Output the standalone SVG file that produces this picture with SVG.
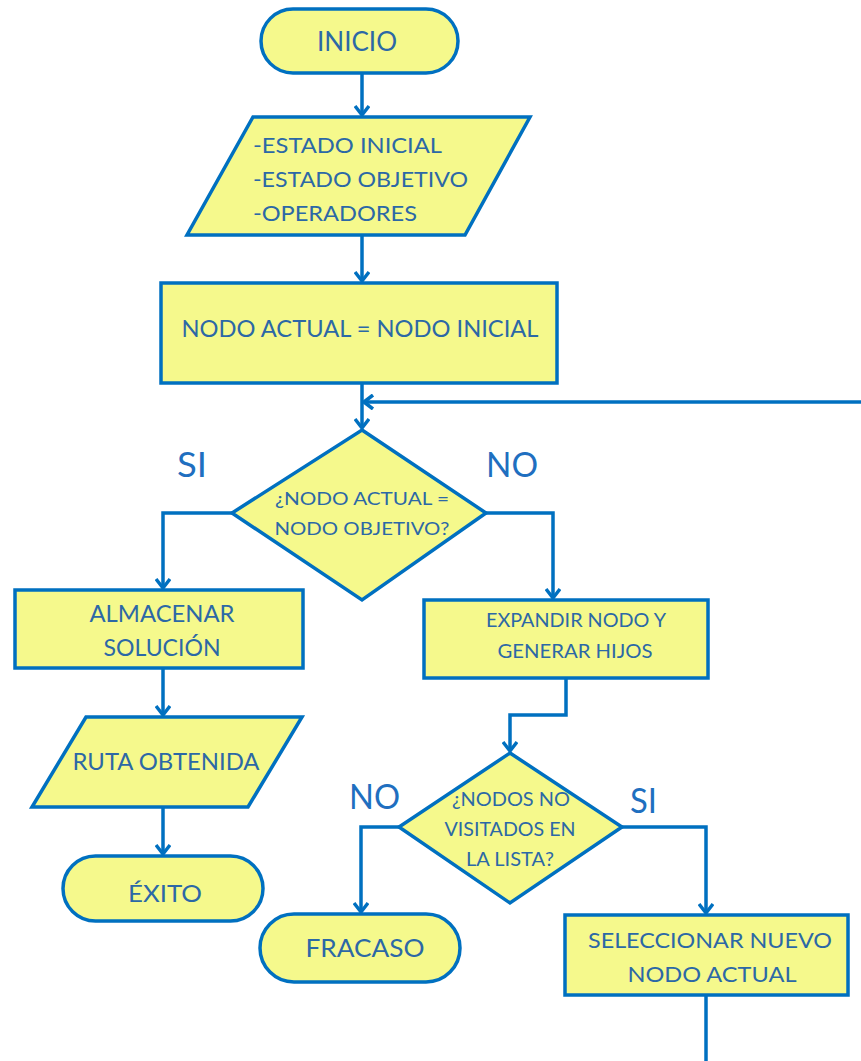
<svg xmlns="http://www.w3.org/2000/svg" width="861" height="1061" viewBox="0 0 861 1061">
<style>
.shape{fill:#F5F98C;stroke:#0070C0;stroke-width:3.5}
.t{font-family:Lato,"Open Sans","Liberation Sans",sans-serif;fill:#2C68A6;text-anchor:middle}
.lbl{font-family:Lato,"Open Sans","Liberation Sans",sans-serif;fill:#1F6FC0;font-size:35px}
.c{fill:none;stroke:#0070C0;stroke-width:3.5}
</style>
<defs>
<marker id="arr" viewBox="-12 -8 14 16" markerWidth="14" markerHeight="16" refX="0" refY="0" orient="auto" markerUnits="userSpaceOnUse">
<path d="M-9,-7 L0,0 L-9,7" fill="none" stroke="#0070C0" stroke-width="3.5" stroke-linejoin="round"/>
</marker>
</defs>
<rect width="861" height="1061" fill="#FFFFFF"/>
<g id="connectors">
<path class="c" d="M362,73 L362,115" marker-end="url(#arr)"/>
<path class="c" d="M362,235 L362,281" marker-end="url(#arr)"/>
<path class="c" d="M362,384 L362,428" marker-end="url(#arr)"/>
<path class="c" d="M861,402 L364,402" marker-end="url(#arr)"/>
<path class="c" d="M232,513 L163,513 L163,588" marker-end="url(#arr)"/>
<path class="c" d="M486,513 L553,513 L553,598" marker-end="url(#arr)"/>
<path class="c" d="M163,668 L163,715" marker-end="url(#arr)"/>
<path class="c" d="M163,807 L163,854" marker-end="url(#arr)"/>
<path class="c" d="M566,678 L566,715 L510,715 L510,751" marker-end="url(#arr)"/>
<path class="c" d="M399,827 L361,827 L361,912" marker-end="url(#arr)"/>
<path class="c" d="M622,827 L706,827 L706,913" marker-end="url(#arr)"/>
<path class="c" d="M706,995 L706,1061"/>
</g>
<g id="labels">
<text class="lbl" x="177" y="477" textLength="30" lengthAdjust="spacingAndGlyphs">SI</text>
<text class="lbl" x="486" y="477" textLength="52" lengthAdjust="spacingAndGlyphs">NO</text>
<text class="lbl" x="349" y="809" textLength="51" lengthAdjust="spacingAndGlyphs">NO</text>
<text class="lbl" x="630" y="813" textLength="27" lengthAdjust="spacingAndGlyphs">SI</text>
</g>
<g id="inicio">
<rect class="shape" x="261" y="9" width="197" height="64" rx="32"/>
<text class="t" x="357" y="51" font-size="26" textLength="80" lengthAdjust="spacingAndGlyphs">INICIO</text>
</g>
<g id="entrada">
<polygon class="shape" points="253,117 530,117 465,235 187,235"/>
<text class="t" style="text-anchor:start" x="253" y="153" font-size="22" textLength="189" lengthAdjust="spacingAndGlyphs">-ESTADO INICIAL</text>
<text class="t" style="text-anchor:start" x="253" y="187" font-size="22" textLength="215" lengthAdjust="spacingAndGlyphs">-ESTADO OBJETIVO</text>
<text class="t" style="text-anchor:start" x="253" y="221" font-size="22" textLength="164" lengthAdjust="spacingAndGlyphs">-OPERADORES</text>
</g>
<g id="nodo-inicial">
<rect class="shape" x="161" y="283" width="396" height="100"/>
<text class="t" x="360" y="337" font-size="23" textLength="357" lengthAdjust="spacingAndGlyphs">NODO ACTUAL = NODO INICIAL</text>
</g>
<g id="decision-objetivo">
<polygon class="shape" points="362,430 486,513 362,600 232,513"/>
<text class="t" x="362" y="505" font-size="18" textLength="174" lengthAdjust="spacingAndGlyphs">¿NODO ACTUAL =</text>
<text class="t" x="362" y="535" font-size="18" textLength="175" lengthAdjust="spacingAndGlyphs">NODO OBJETIVO?</text>
</g>
<g id="almacenar">
<rect class="shape" x="15" y="590" width="288" height="78"/>
<text class="t" x="162" y="622" font-size="23" textLength="145" lengthAdjust="spacingAndGlyphs">ALMACENAR</text>
<text class="t" x="162" y="656" font-size="23" textLength="117" lengthAdjust="spacingAndGlyphs">SOLUCIÓN</text>
</g>
<g id="ruta">
<polygon class="shape" points="86,717 302,717 248,807 32,807"/>
<text class="t" x="166" y="770" font-size="23" textLength="187" lengthAdjust="spacingAndGlyphs">RUTA OBTENIDA</text>
</g>
<g id="exito">
<rect class="shape" x="63" y="856" width="200" height="65" rx="32.5"/>
<text class="t" x="165" y="902" font-size="24" textLength="74" lengthAdjust="spacingAndGlyphs">ÉXITO</text>
</g>
<g id="expandir">
<rect class="shape" x="424" y="600" width="284" height="78"/>
<text class="t" x="576" y="627" font-size="20" textLength="180" lengthAdjust="spacingAndGlyphs">EXPANDIR NODO Y</text>
<text class="t" x="575" y="658" font-size="20" textLength="155" lengthAdjust="spacingAndGlyphs">GENERAR HIJOS</text>
</g>
<g id="decision-lista">
<polygon class="shape" points="510,753 622,827 510,903 399,827"/>
<text class="t" x="511" y="806" font-size="20" textLength="118" lengthAdjust="spacingAndGlyphs">¿NODOS NO</text>
<text class="t" x="510" y="836" font-size="20" textLength="131" lengthAdjust="spacingAndGlyphs">VISITADOS EN</text>
<text class="t" x="510" y="866" font-size="20" textLength="88" lengthAdjust="spacingAndGlyphs">LA LISTA?</text>
</g>
<g id="fracaso">
<rect class="shape" x="260" y="914" width="200" height="68" rx="34"/>
<text class="t" x="365" y="957" font-size="25" textLength="119" lengthAdjust="spacingAndGlyphs">FRACASO</text>
</g>
<g id="seleccionar">
<rect class="shape" x="565" y="915" width="283" height="80"/>
<text class="t" x="710" y="948" font-size="22" textLength="244" lengthAdjust="spacingAndGlyphs">SELECCIONAR NUEVO</text>
<text class="t" x="712" y="982" font-size="22" textLength="169" lengthAdjust="spacingAndGlyphs">NODO ACTUAL</text>
</g>
</svg>
